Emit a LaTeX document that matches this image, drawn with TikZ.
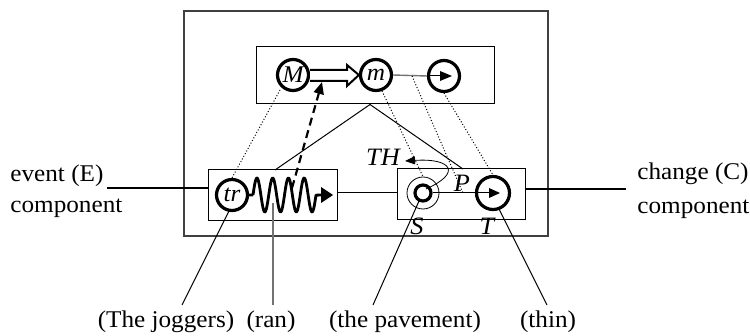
\documentclass[tikz,border=0pt]{standalone}
\usepackage{fontspec}
\setmainfont{Liberation Serif}[FakeStretch=1.05]
\usetikzlibrary{arrows.meta}
\begin{document}
\begin{tikzpicture}[x=0.5pt,y=-0.5pt,
  every node/.style={font=\fontsize{12}{14}\selectfont, inner sep=0pt},
  frame/.style={draw, line width=0.5pt},
  outerframe/.style={draw=black!75, line width=0.7pt},
  ring/.style={circle, draw, line width=1.6pt, minimum size=15.5pt, inner sep=0pt, font=\fontsize{12}{14}\selectfont\itshape},
  thinring/.style={circle, draw, line width=0.4pt, minimum size=16pt},
  dotline/.style={densely dotted, line width=0.5pt},
  thinline/.style={line width=0.5pt},
  greyline/.style={draw=black!55, line width=0.7pt},
  tri/.style={fill=black},
  lbl/.style={font=\fontsize{12.5}{14}\selectfont\itshape}
]
\useasboundingbox (0,0) rectangle (750,336);

% frames
\node[outerframe, minimum width=182pt, minimum height=112.5pt] (outer) at (366,123.5) {};
\node[frame, minimum width=119pt, minimum height=28.5pt] (topbox) at (375,75.5) {};
\node[frame, minimum width=64.5pt, minimum height=25.5pt] (ebox) at (272.5,195.5) {};
\node[frame, minimum width=64pt, minimum height=25.5pt] (cbox) at (461,194.5) {};

% top circles
\node[ring] (M) at (293,75) {M};
\node[ring] (m) at (376,75) {m};
\node[ring] (R) at (444,76) {};
% lower circles
\node[ring] (tr) at (232,195) {tr};
\node[circle, draw, line width=1.6pt, minimum size=8pt] (S) at (423,193) {};
\node[thinring] (Sout) at (423,193) {};
\node[ring, minimum size=16.5pt] (T) at (493,193) {};

% hollow double arrow M -> m
\draw[line width=1pt, fill=white] (M.east |- 0,70) -- (347,70) -- (347,65) -- (m.west) -- (347,86) -- (347,81) -- (M.east |- 0,81);

% grey line m -> R with black head
\coordinate (Rh) at (440,76);
\draw[greyline] (m.east) -- (R.west);
\draw[thinline] (R.west) -- (Rh);
\fill[tri] (440,71) -- (452,76) -- (440,81) -- cycle;

% S -> T
\coordinate (Th) at (489,193);
\draw[thinline] (S.east) -- (Th);
\fill[tri] (489,188) -- (500,193) -- (489,198) -- cycle;

% wave
\coordinate (wstart) at (253,195);
\coordinate (wend) at (322,195);
\draw[line width=1.4pt, line join=round] (tr.east) -- (wstart)
  plot[domain=0:4, samples=120, smooth] ({253+\x*15.75},{195-17*sin(\x*360)}) -- (wend);
\fill[tri] (321,187) -- (333,195) -- (321,203) -- cycle;

% apex lines
\coordinate (apex) at (370,104.5);
\coordinate (eTop) at (275,170);
\coordinate (cTop) at (463,169);
\draw[thinline] (eTop) -- (apex) -- (cTop);

% horizontal connectors
\coordinate (Eend) at (107,188);
\coordinate (Cend) at (626,189);
\draw[line width=0.9pt] (Eend) -- (ebox.west |- Eend);
\draw[line width=0.9pt] (cbox.east |- Cend) -- (Cend);
\draw[thinline] (ebox.east |- 0,193) -- (cbox.west |- 0,193);

% dotted lines
\coordinate (Mb) at (280,90);
\coordinate (mb) at (382,91);
\coordinate (gp) at (412,76);
\coordinate (Pp) at (463,193);
\draw[dotline] (Mb) -- (tr.north);
\draw[dotline] (mb) -- (Sout.north);
\draw[dotline] (gp) -- (Pp);
\draw[dotline] (R.south) -- (T.north);

% dashed arrow
\coordinate (dstart) at (292,188);
\coordinate (dend) at (322,82);
\draw[line width=1.1pt, dash pattern=on 4pt off 2.5pt, -{Triangle[length=6pt,width=5pt]}] (dstart) -- (dend);

% TH curve
\node[lbl] (TH) at (383,157) {TH};
\coordinate (thstart) at (426,189);
\draw[line width=0.4pt, -{Triangle[length=5pt,width=4pt]}] (thstart) .. controls (462,173) and (452,158) .. (405,161);

% labels S T P
\node[lbl] (Sl) at (417,226) {S};
\node[lbl] (Tl) at (487,226) {T};
\node[lbl] (Pl) at (462,183) {P};

% side labels
\node[anchor=west] (ev) at (10,176) {event (E)};
\node[anchor=west] (evc) at (10,208) {component};
\node[anchor=west] (ch) at (637,174) {change (C)};
\node[anchor=west] (chc) at (637,209) {component};

% bottom labels
\node (jog) at (166,322) {(The joggers)};
\node (ran) at (271,322) {(ran)};
\node (pav) at (405,322) {(the pavement)};
\node (thin) at (548,322) {(thin)};

\coordinate (trb) at (229,211);
\coordinate (ranb) at (273,203);
\coordinate (Sb) at (419,201);
\coordinate (Tb) at (499,209);
\coordinate (jogTop) at (182,305);
\coordinate (ranTop) at (273,305);
\coordinate (pavTop) at (373,305);
\coordinate (thinTop) at (547,305);
\draw[thinline] (trb) -- (jogTop);
\draw[greyline] (ranb) -- (ranTop);
\draw[thinline] (Sb) -- (pavTop);
\draw[thinline] (Tb) -- (thinTop);
\end{tikzpicture}
\end{document}
